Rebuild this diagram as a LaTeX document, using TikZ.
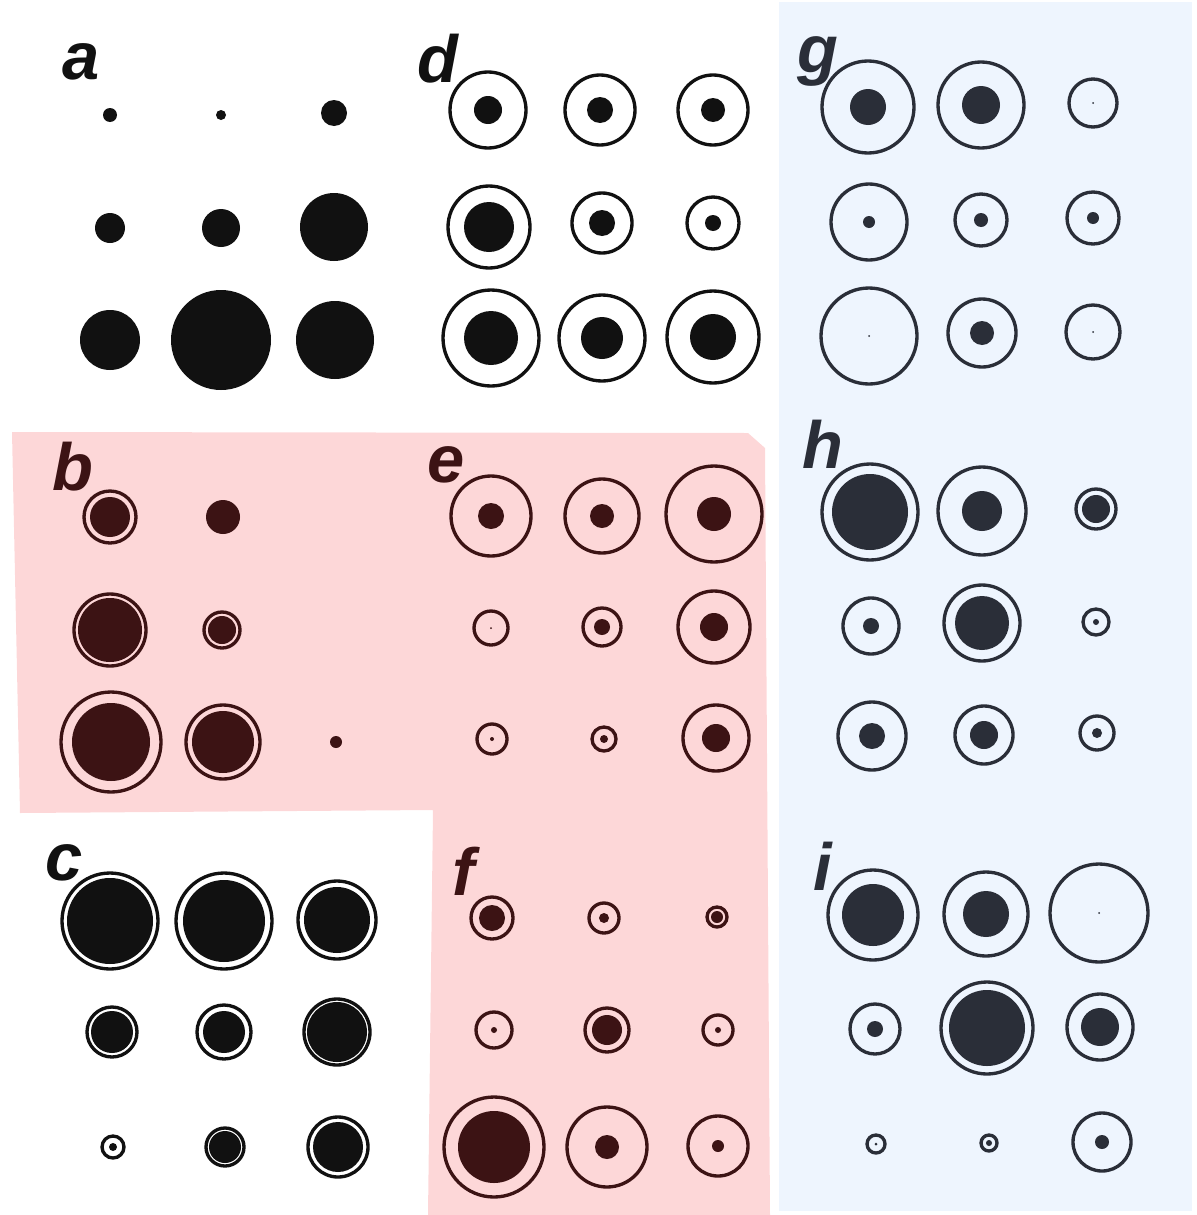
\documentclass[tikz,border=0pt]{standalone}
\usepackage{fontspec}
\setmainfont{Liberation Sans}
\usepackage{xcolor}
\usepackage{tikz}

\definecolor{pinkbg}{HTML}{FDD7D8}
\definecolor{bluebg}{HTML}{EEF5FE}
\definecolor{pinkink}{HTML}{3C1314}
\definecolor{blueink}{HTML}{2A2E38}
\definecolor{greyink}{HTML}{111111}

\tikzset{
  ring/.style={line width=0.95pt},
  panellabel/.style={anchor=base west, inner sep=0pt,
    font=\fontsize{19}{19}\selectfont\bfseries\itshape},
}

\begin{document}
\begin{tikzpicture}[x=0.01cm, y=0.01cm]
        \useasboundingbox (0,0) rectangle (1197,-1215);
        % shaded backgrounds
        \fill[pinkbg] (12,-432) -- (748,-433) -- (765,-448) -- (770,-1215)
          -- (428,-1215) -- (433,-810) -- (20,-813) -- cycle;
        \fill[bluebg] (779,-2) rectangle (1192,-1211);

        % panel letters
        \begin{scope}[every node/.style={panellabel}]
          \node[text=greyink] (labA) at (62,-80) {a};
          \node[text=pinkink] (labB) at (52,-490) {b};
          \node[text=greyink] (labC) at (45,-880) {c};
          \node[text=greyink] (labD) at (417,-82) {d};
          \node[text=pinkink] (labE) at (427,-482) {e};
          \node[text=pinkink] (labF) at (452,-895) {f};
          \node[text=blueink] (labG) at (797,-72) {g};
          \node[text=blueink] (labH) at (802,-468) {h};
          \node[text=blueink] (labI) at (813,-890) {i};
        \end{scope}

        % spots without a ring
        \begin{scope}[color=greyink]
          \foreach \x/\y/\r in {110/115/7, 221/115/5, 334/113/13,
                                110/228/15, 221/228/19, 334/227/34,
                                110/340/30, 221/340/50, 335/340/39}
            \fill (\x,-\y) circle (\r);
        \end{scope}
        \begin{scope}[color=pinkink]
          \foreach \x/\y/\r in {223/517/17, 336/742/6}
            \fill (\x,-\y) circle (\r);
        \end{scope}

        % ring and spot: x/y/ring radius/spot radius
        \begin{scope}[color=greyink]
          \foreach \x/\y/\R/\r in {110/921/48/43, 224/921/48/41, 337/920/39/33,
                                   112/1032/25/21, 224/1032/27/21, 337/1032/33/30,
                                   113/1147/11/4, 225/1147/19/16, 338/1147/30/25,
                                   488/110/38/14, 600/110/35/13, 713/110/35/12,
                                   489/227/41/25, 602/223/30/13, 713/223/26/8,
                                   491/338/48/27, 602/338/43/21, 713/337/46/23} {
            \draw[ring] (\x,-\y) circle (\R);
            \fill (\x,-\y) circle (\r);
          }
        \end{scope}
        \begin{scope}[color=pinkink]
          \foreach \x/\y/\R/\r in {110/517/26/20, 110/630/36/32, 222/630/18/14,
                                   111/742/50/39, 223/742/37/31,
                                   491/516/40/13, 602/516/37/12, 714/514/48/17,
                                   491/628/17/1, 602/627/19/8, 714/627/36/14,
                                   492/739/15/2, 604/739/12/4, 716/738/33/14,
                                   492/918/21/13, 604/918/15/5, 717/917/10/6,
                                   494/1030/18/3, 607/1030/22/15, 718/1030/15/3,
                                   494/1147/50/36, 607/1147/40/12, 718/1146/30/6} {
            \draw[ring] (\x,-\y) circle (\R);
            \fill (\x,-\y) circle (\r);
          }
        \end{scope}
        \begin{scope}[color=blueink]
          \foreach \x/\y/\R/\r in {868/107/46/18, 981/105/43/19, 1093/103/24/1,
                                   869/222/38/6, 981/220/26/7, 1093/218/26/6,
                                   869/336/48/1, 982/333/34/12, 1093/332/27/1,
                                   870/512/48/38, 982/511/44/20, 1096/509/20/14,
                                   871/626/28/8, 982/623/38/27, 1096/622/13/3,
                                   872/736/34/13, 984/735/29/14, 1097/733/17/5,
                                   873/915/45/31, 986/914/42/23, 1099/913/49/1,
                                   875/1029/25/8, 987/1028/46/38, 1100/1027/33/19,
                                   876/1144/9/1.5, 989/1143/8/3, 1102/1142/29/7} {
            \draw[ring] (\x,-\y) circle (\R);
            \fill (\x,-\y) circle (\r);
          }
        \end{scope}
      \end{tikzpicture}
\end{document}
